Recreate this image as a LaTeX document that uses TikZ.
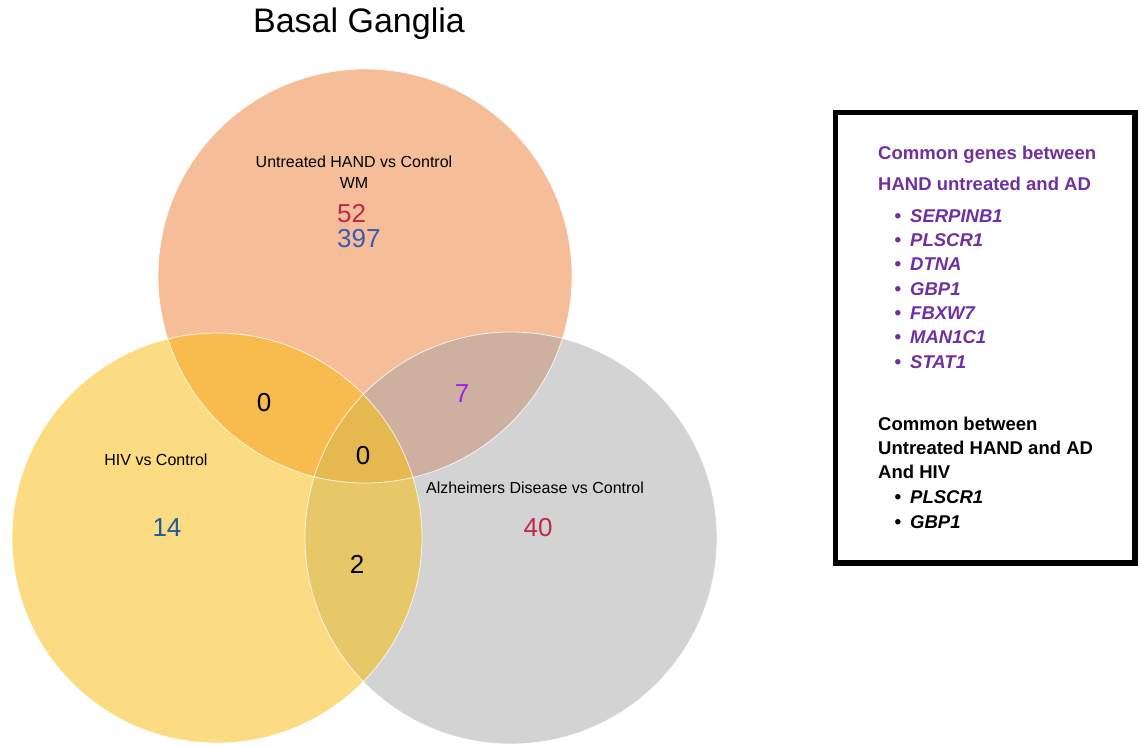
\documentclass[tikz,border=0pt]{standalone}
\usepackage{fontspec}
\setmainfont{Liberation Sans}
\definecolor{peach}{RGB}{245,190,152}
\definecolor{yel}{RGB}{252,220,130}
\definecolor{gry}{RGB}{211,211,211}
\definecolor{tl}{RGB}{248,188,78}
\definecolor{tr}{RGB}{205,176,160}
\definecolor{lr}{RGB}{230,200,105}
\definecolor{tlr}{RGB}{229,185,80}
\definecolor{crim}{RGB}{193,39,72}
\definecolor{blu}{RGB}{60,90,180}
\definecolor{blu2}{RGB}{30,90,160}
\definecolor{viol}{RGB}{160,32,240}
\definecolor{purp}{RGB}{112,48,160}
\tikzset{
  num/.style={inner sep=0pt, font=\fontsize{26}{30}\selectfont},
  lab/.style={inner sep=0pt, font=\fontsize{16}{21}\selectfont, align=center},
  boxtxt/.style={inner sep=0pt, anchor=base west, font=\fontsize{18.5}{22}\selectfont\bfseries},
  genetxt/.style={inner sep=0pt, anchor=base west, font=\fontsize{18.5}{22}\selectfont\bfseries\itshape},
  bul/.style={inner sep=0pt, anchor=base, font=\fontsize{19}{22}\selectfont\bfseries},
}
\begin{document}
\begin{tikzpicture}[x=1pt,y=-1pt]
\useasboundingbox (0,0) rectangle (1141,747);
\fill[white] (0,0) rectangle (1141,747);
\def\top{(365,276) circle[radius=207]}
\def\lft{(217,538) circle[radius=205]}
\def\rgt{(511,538) circle[radius=206]}
\fill[peach] \top;
\fill[yel] \lft;
\fill[gry] \rgt;
\begin{scope}\clip \top; \fill[tl] \lft; \end{scope}
\begin{scope}\clip \top; \fill[tr] \rgt; \end{scope}
\begin{scope}\clip \lft; \fill[lr] \rgt; \end{scope}
\begin{scope}\clip \top; \clip \lft; \fill[tlr] \rgt; \end{scope}
\draw[white, line width=0.8pt, opacity=0.8] \top \lft \rgt;

\node[inner sep=0pt, font=\fontsize{34}{40}\selectfont] (title) at (359,24) {Basal Ganglia};

\node[lab] (ttl) at (354,172) {Untreated HAND vs Control\\WM};
\node[num, anchor=west, text=crim] (n52) at (337,214) {52};
\node[num, anchor=west, text=blu] (n397) at (337,239) {397};
\node[num] (n0a) at (264,403) {0};
\node[num, text=viol] (n7) at (462,394) {7};
\node[num] (n0b) at (363,456) {0};
\node[lab] (hiv) at (156,460) {HIV vs Control};
\node[num, text=blu2] (n14) at (167,528) {14};
\node[lab] (ad) at (535,488) {Alzheimers Disease vs Control};
\node[num, text=crim] (n40) at (538,528) {40};
\node[num] (n2) at (357,564) {2};

\draw[black, line width=5.5pt] (835.5,112.5) rectangle (1135,563);
\begin{scope}[text=purp]
\node[boxtxt] (p1) at (878,159.5) {Common genes between};
\node[boxtxt] (p2) at (878,190.5) {HAND untreated and AD};
\node[bul] (b1) at (898,222.5) {•}; \node[genetxt] (g1) at (910,222.5) {SERPINB1};
\node[bul] (b2) at (898,246.5) {•}; \node[genetxt] (g2) at (910,246.5) {PLSCR1};
\node[bul] (b3) at (898,270.5) {•}; \node[genetxt] (g3) at (910,270.5) {DTNA};
\node[bul] (b4) at (898,295.5) {•}; \node[genetxt] (g4) at (910,295.5) {GBP1};
\node[bul] (b5) at (898,319.5) {•}; \node[genetxt] (g5) at (910,319.5) {FBXW7};
\node[bul] (b6) at (898,343.5) {•}; \node[genetxt] (g6) at (910,343.5) {MAN1C1};
\node[bul] (b7) at (898,368.5) {•}; \node[genetxt] (g7) at (910,368.5) {STAT1};
\end{scope}
\node[boxtxt] (k1) at (878,430.5) {Common between};
\node[boxtxt] (k2) at (878,454.5) {Untreated HAND and AD};
\node[boxtxt] (k3) at (878,478.5) {And HIV};
\node[bul] (c1) at (898,503.5) {•}; \node[genetxt] (h1) at (910,503.5) {PLSCR1};
\node[bul] (c2) at (898,528.5) {•}; \node[genetxt] (h2) at (910,528.5) {GBP1};
\end{tikzpicture}
\end{document}
